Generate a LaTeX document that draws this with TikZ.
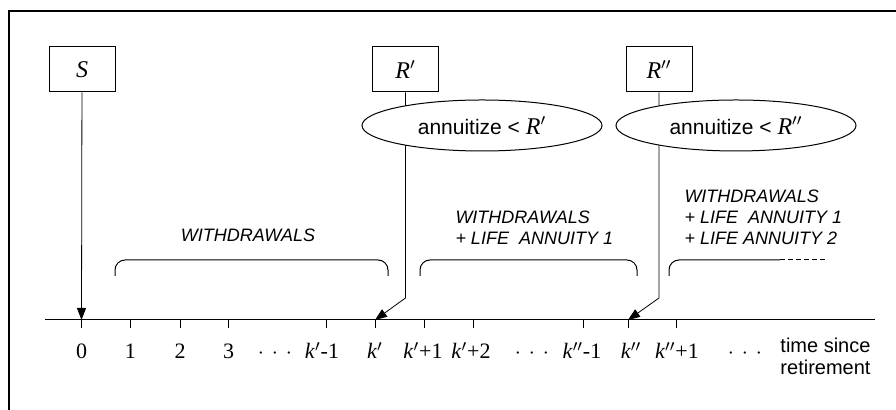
\documentclass[tikz,border=0pt]{standalone}
\usepackage{fontspec}
\setmainfont{Liberation Serif}
\setsansfont{Liberation Sans}
\usetikzlibrary{arrows.meta,shapes.geometric,backgrounds}
\tikzset{
	box/.style={draw,minimum width=33pt,minimum height=22.5pt,inner sep=0pt,font=\fontsize{12}{14}\selectfont},
	oval/.style={draw,ellipse,fill=white,minimum width=120pt,minimum height=25.5pt,inner sep=0pt,font=\sffamily\fontsize{10.5}{12}\selectfont},
	lbl/.style={font=\sffamily\itshape\fontsize{9}{10.5}\selectfont,align=left,inner sep=0pt},
	num/.style={font=\fontsize{11}{12}\selectfont,anchor=base,inner sep=0pt},
	arr/.style={-{Triangle[length=6pt,width=4.5pt]}},
}
\newcommand\rp[1]{{\rmfamily\fontsize{12}{14}\selectfont\textit{R}$#1$}}
\newcommand\ddd{$\cdot$\hspace{4pt}$\cdot$\hspace{4pt}$\cdot$}
\begin{document}
\begin{tikzpicture}[x=.5pt,y=-.5pt,line width=.5pt]
		\useasboundingbox(0,0)rectangle(896,410);
		\draw[line width=.6pt](9,11)rectangle(910,420);
		\coordinate(axL)at(45,320);
		\coordinate(axR)at(875,320);
		\coordinate(bp)at(405.5,298);
		\coordinate(bpp)at(659,298);
		% boxes and ovals
		\node[box](S)at(82,69.5){\textit{S}};
		\node[box](Rp)at(405.5,69.5){\textit{R}$'$};
		\node[box](Rpp)at(659,69.5){\textit{R}$''$};
		\node[oval](Ap)at(482,125.5){annuitize < \rp{'}};
		\node[oval](App)at(736,125.5){annuitize < \rp{''}};
		% time axis
		\draw(axL)--(axR);
		\foreach\n/\x/\lx/\t in{0/81.5/81.5/0,1/130.5/130.5/1,2/180/180/2,3/228.5/228.5/3,4/326/322/\textit{k}$'$-1,5/375/375/\textit{k}$'$,6/424/423/\textit{k}$'$+1,7/473/471/\textit{k}$'$+2,8/583/582/\textit{k}$''$-1,9/628/631/\textit{k}$''$,10/676/677/\textit{k}$''$+1}{
			\coordinate(t\n)at(\x,320);
			\draw(t\n)--++(0,8);
			\node[num](n\n)at(\lx,359){\t};
		}
		\foreach\x[count=\i]in{275,532,745}{\node[num](d\i)at(\x,359){\ddd};}
		\node[font=\sffamily\fontsize{10}{11}\selectfont,align=center](ts)at(825.5,356){time since\\retirement};
		% periods
		\draw[rounded corners=5pt](115,276)--(115,260)--(388,260)--(388,276);
		\draw[rounded corners=5pt](420,276)--(420,260)--(637,260)--(637,276);
		\draw[rounded corners=5pt](669,276)--(669,260)--(780,260);
		\draw[dash pattern=on 2.5pt off 1.5pt](780,260)--(827,260);
		\node[lbl](w1)at(248,235){WITHDRAWALS};
		\node[lbl,anchor=base west](w2)at(455,244.5){WITHDRAWALS\\+ LIFE\ \ ANNUITY 1};
		\node[lbl,anchor=base west](w3)at(684,244.5){WITHDRAWALS\\+ LIFE\ \ ANNUITY 1\\+ LIFE ANNUITY 2};
		% connectors
		\begin{pgfonlayer}{background}
		\draw[arr](S)--(t0);
		\draw[arr](Rp)--(bp)--(t5);
		\draw[arr](Rpp)--(bpp)--(t9);
		\end{pgfonlayer}
		\end{tikzpicture}
\end{document}
